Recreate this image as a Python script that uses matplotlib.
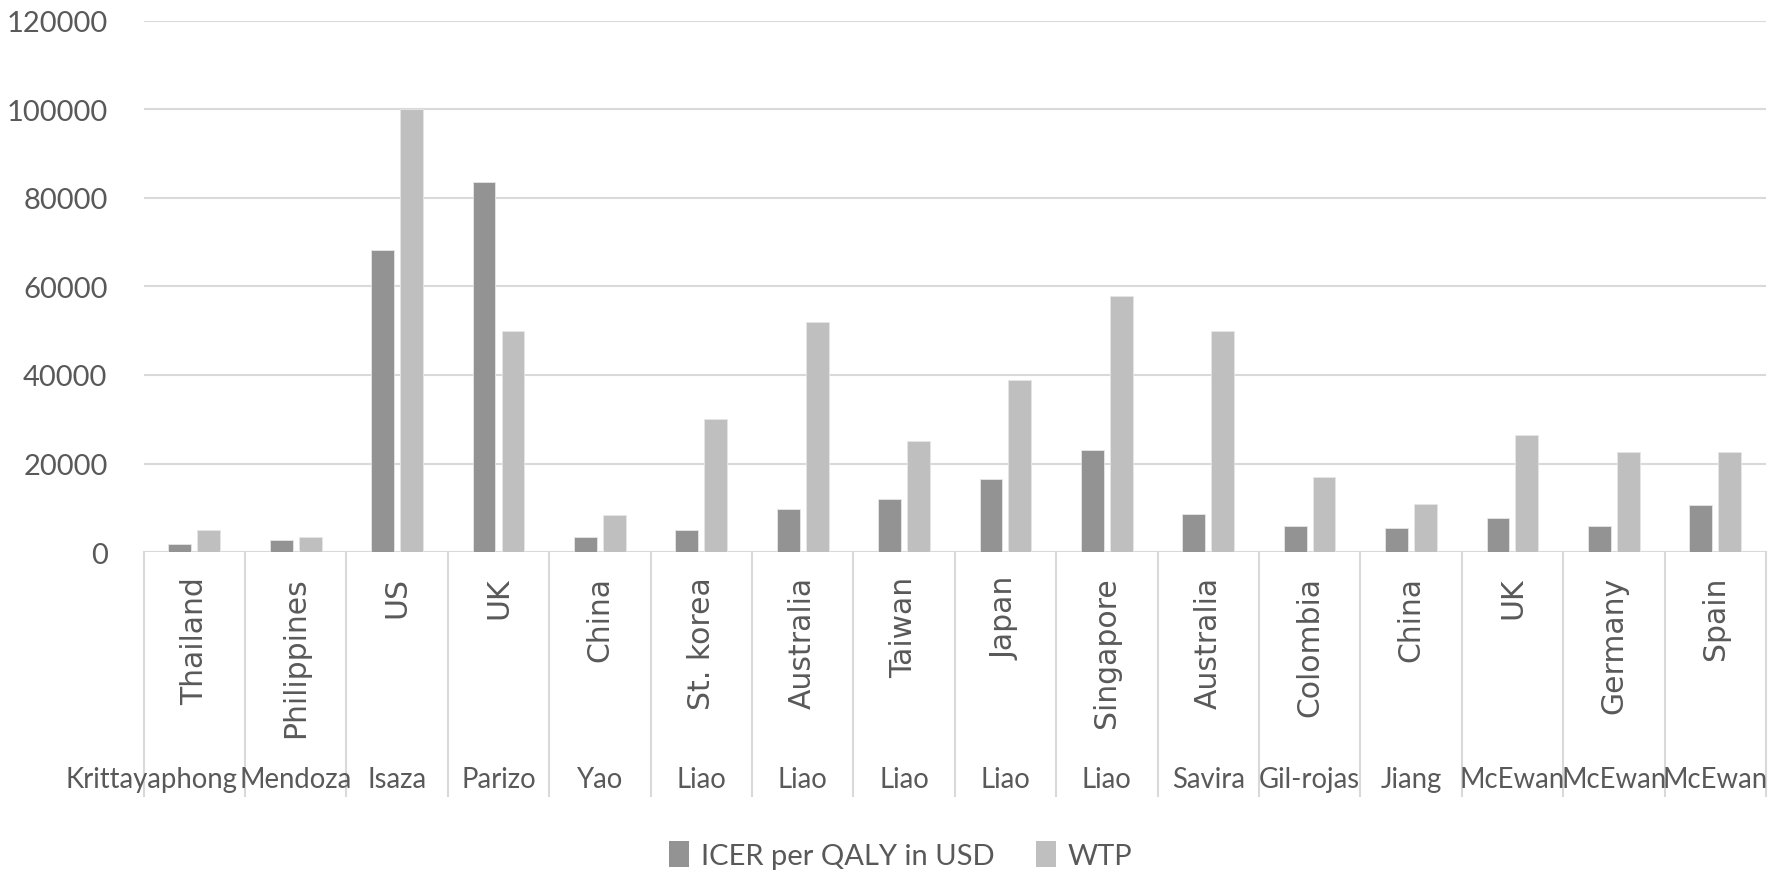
import matplotlib
matplotlib.use("Agg")
import matplotlib.pyplot as plt
import matplotlib.transforms as mtransforms
from matplotlib.patches import Patch
import numpy as np

countries = ["Thailand", "Philippines", "US", "UK", "China", "St. korea", "Australia",
             "Taiwan", "Japan", "Singapore", "Australia", "Colombia", "China", "UK",
             "Germany", "Spain"]
authors = ["Krittayaphong", "Mendoza", "Isaza", "Parizo", "Yao", "Liao", "Liao", "Liao",
           "Liao", "Liao", "Savira", "Gil-rojas", "Jiang", "McEwan", "McEwan", "McEwan"]
icer = [1800, 2800, 68200, 83600, 3500, 5100, 9700, 12100, 16500, 23000, 8700, 5800,
        5400, 7600, 6000, 10600]
wtp = [5000, 3400, 100000, 50000, 8300, 30000, 51900, 25000, 38900, 57900, 50000, 17000,
       10800, 26400, 22600, 22600]
series_names = ["ICER per QALY in USD", "WTP"]
yticks = [0, 20000, 40000, 60000, 80000, 100000, 120000]

C_ICER = "#939393"
C_WTP = "#bfbfbf"
GRID = "#d9d9d9"
TXT = "#595959"
MAINFONT = ["Lato", "DejaVu Sans"]

fig = plt.figure(figsize=(17.73, 8.78), dpi=100)
ax = fig.add_axes([0.081, 0.370, 0.915, 0.6055])

x = np.arange(len(countries))
bw = 0.225
off = bw / 2 + 0.03
ax.bar(x - off, icer, width=bw, color=C_ICER, edgecolor="#e6e6e6", linewidth=0.6, zorder=3)
ax.bar(x + off, wtp, width=bw, color=C_WTP, edgecolor="#e6e6e6", linewidth=0.6, zorder=3)

ax.set_xlim(-0.5, len(countries) - 0.5)
ax.set_ylim(0, 120000)
ax.set_yticks(yticks)
ax.set_yticklabels([str(v) for v in yticks], family=MAINFONT, fontsize=21, color=TXT)
ax.tick_params(axis="y", length=0, pad=26)
ax.set_xticks([])
for s in ax.spines.values():
    s.set_visible(False)
ax.yaxis.grid(True, color=GRID, linewidth=1.5, zorder=0)
ax.set_axisbelow(True)

trans = mtransforms.blended_transform_factory(ax.transData, ax.transAxes)
for b in np.arange(len(countries) + 1) - 0.5:
    ax.plot([b, b], [0, -0.459], transform=trans, color=GRID, linewidth=1.5, clip_on=False)

for i, (c, a) in enumerate(zip(countries, authors)):
    ax.text(i, -0.045, c, transform=trans, rotation=90, ha="center", va="top",
            fontsize=21.5, color=TXT, family="DejaVu Sans")
    if i == 0:
        # long label shifted left so it does not run into its neighbour
        ax.text(i + 0.43, -0.427, a, transform=trans, ha="right", va="center",
                fontsize=19.8, color=TXT, family=MAINFONT)
    else:
        ax.text(i, -0.427, a, transform=trans, ha="center", va="center",
                fontsize=19.8, color=TXT, family=MAINFONT)

handles = [Patch(facecolor=C_ICER, edgecolor="none"), Patch(facecolor=C_WTP, edgecolor="none")]
leg = fig.legend(handles, series_names, loc="center", bbox_to_anchor=(0.508, 0.025), ncol=2,
                 frameon=False, handlelength=0.7, handleheight=1.0, handletextpad=0.4,
                 columnspacing=1.4, prop={"family": MAINFONT, "size": 21})
for t in leg.get_texts():
    t.set_color(TXT)

fig.savefig("out.png", dpi=100)
